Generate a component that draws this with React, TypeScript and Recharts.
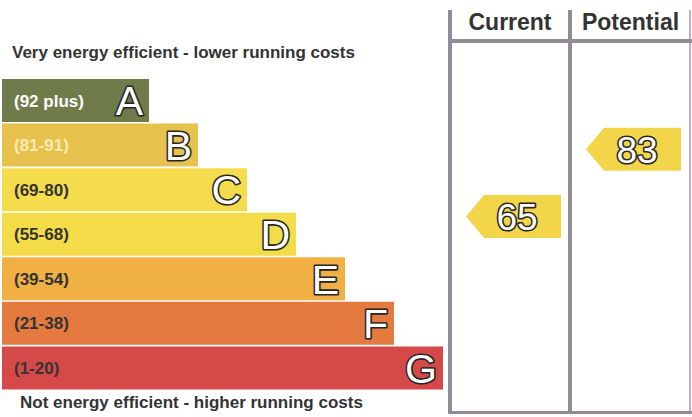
import { BarChart, Bar, XAxis, YAxis, Cell, LabelList, ComposedChart, Scatter } from 'recharts';

const bands = ['A', 'B', 'C', 'D', 'E', 'F', 'G'];
const ranges = ['(92 plus)', '(81-91)', '(69-80)', '(55-68)', '(39-54)', '(21-38)', '(1-20)'];
const barLengths = [3, 4, 5, 6, 7, 8, 9];
const bandColors = ['#707b4c', '#e6c24c', '#f5dc4c', '#f3dc48', '#f0b044', '#e47a3f', '#d54a49'];
const rangeColors = ['#ffffff', '#f7ebb4', '#333333', '#333333', '#333333', '#333333', '#333333'];

const ratingColumns = ['Current', 'Potential'];
const ratingValues = [65, 83];

const bandData = bands.map((band, i) => ({ band, range: ranges[i], length: barLengths[i] }));
const ratingData = ratingColumns.map((name, i) => ({ name, rating: ratingValues[i] }));

const FONT = '"Liberation Sans", Arial, sans-serif';
const LINE = '#948b98';

// range text on the left, outlined band letter on the right end
const BandLabel = (props: any) => {
  const { x, y, width, height, index } = props;
  const cy = y + height / 2;
  return (
    <g>
      <text x={x + 12} y={cy} dy="0.36em" fontFamily={FONT} fontWeight="bold" fontSize={17}
        fill={rangeColors[index]}>{ranges[index]}</text>
      <text x={x + width - 6} y={cy} dy="0.36em" textAnchor="end" fontFamily={FONT} fontSize={41}
        fill="#ffffff" stroke="#262626" strokeWidth={3.2} paintOrder="stroke" strokeLinejoin="round">
        {bands[index]}
      </text>
    </g>
  );
};

const RatingArrow = (props: any) => {
  const { cx, cy, payload } = props;
  const h = 21.5;
  const d = `M${cx - 44},${cy} L${cx - 26},${cy - h} L${cx + 51},${cy - h} L${cx + 51},${cy + h} L${cx - 26},${cy + h} Z`;
  return (
    <g>
      <path d={d} fill="#f2d548" />
      <text x={cx + 7} y={cy} dy="0.36em" textAnchor="middle" fontFamily={FONT} fontSize={37}
        fill="#ffffff" stroke="#262626" strokeWidth={3.2} paintOrder="stroke" strokeLinejoin="round">
        {payload.rating}
      </text>
    </g>
  );
};

const abs = (left: number, top: number, width: number, height: number, extra: any = {}) => ({
  position: 'absolute' as const, left, top, width, height, ...extra,
});

export default function App() {
  return (
    <div style={abs(0, 0, 692, 417, { background: '#ffffff', overflow: 'hidden', fontFamily: FONT })}>
      <div style={abs(12, 43, 420, 22, { fontWeight: 'bold', fontSize: 17, color: '#333', whiteSpace: 'nowrap' })}>
        Very energy efficient - lower running costs
      </div>
      <div style={abs(20, 393, 420, 22, { fontWeight: 'bold', fontSize: 17, color: '#333', whiteSpace: 'nowrap' })}>
        Not energy efficient - higher running costs
      </div>

      <div style={abs(0, 0, 692, 417)}>
        <BarChart layout="vertical" width={692} height={417} data={bandData}
          margin={{ top: 78, right: 249, bottom: 27, left: 2 }} barCategoryGap={1}>
          <XAxis type="number" domain={[0, 9]} hide />
          <YAxis type="category" dataKey="band" hide width={0} />
          <Bar dataKey="length" isAnimationActive={false}>
            {bandData.map((d, i) => (
              <Cell key={d.band} fill={bandColors[i]} />
            ))}
            <LabelList dataKey="length" content={<BandLabel />} />
          </Bar>
        </BarChart>
      </div>

      {/* rating panel frame */}
      <div style={abs(448, 10, 4, 404, { background: LINE })} />
      <div style={abs(568, 10, 4, 404, { background: LINE })} />
      <div style={abs(689, 10, 2, 404, { background: '#b9b2bc' })} />
      <div style={abs(450, 39, 242, 4, { background: LINE })} />
      <div style={abs(450, 411, 242, 3, { background: LINE })} />
      <div style={abs(452, 7, 116, 30, { textAlign: 'center', fontWeight: 'bold', fontSize: 23, color: '#333', lineHeight: '30px' })}>
        Current
      </div>
      <div style={abs(572, 7, 117, 30, { textAlign: 'center', fontWeight: 'bold', fontSize: 23, color: '#333', lineHeight: '30px' })}>
        Potential
      </div>

      <div style={abs(450, 0, 240, 417)}>
        <ComposedChart width={240} height={417} data={ratingData}
          margin={{ top: 86, right: 0, bottom: 33, left: 0 }}>
          <XAxis type="category" dataKey="name" hide padding={{ left: 60, right: 60 }} />
          <YAxis type="number" domain={[20, 100]} hide width={0} />
          <Scatter dataKey="rating" isAnimationActive={false} shape={<RatingArrow />} />
        </ComposedChart>
      </div>
    </div>
  );
}
